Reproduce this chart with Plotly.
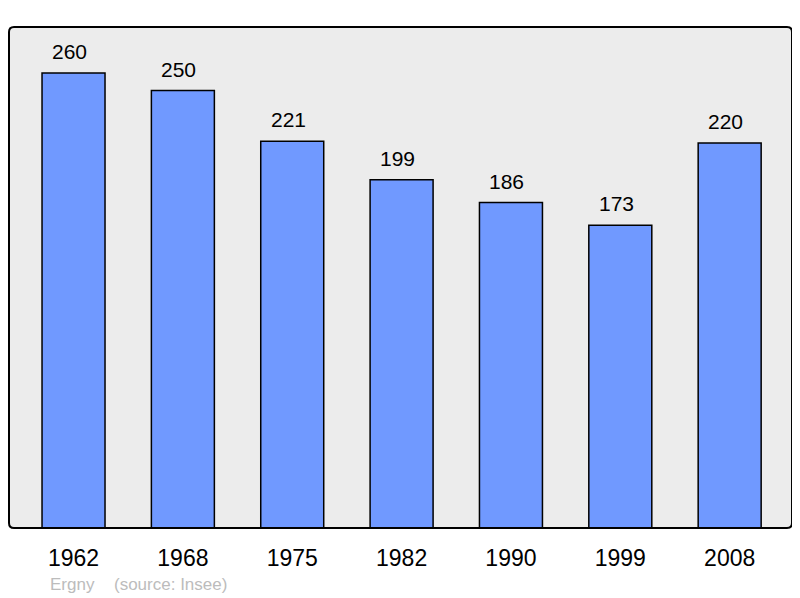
import plotly.graph_objects as go

years = ["1962", "1968", "1975", "1982", "1990", "1999", "2008"]
population = [260, 250, 221, 199, 186, 173, 220]
place = "Ergny"
source = "(source: Insee)"

# page body has an 8px margin, so the figure is drawn 8px right/down
OFF = 8
W, H = 800 - OFF, 598 - OFF
ml, mr, mt, mb = 9 - OFF, 8, 27 - OFF, 70
pw, ph = W - ml - mr, H - mt - mb

FONT = "Liberation Sans, Arial, sans-serif"

fig = go.Figure()
fig.add_trace(go.Bar(
    x=years, y=population, width=0.576,
    marker=dict(color="#7099ff", line=dict(color="#000000", width=1.5)),
    hoverinfo="x+y",
))

for i, v in enumerate(population):
    fig.add_annotation(x=i, y=v, text=str(v), showarrow=False,
                       yanchor="bottom", yshift=8, xshift=-4,
                       font=dict(family=FONT, size=21, color="#000000"))

ysrc = -(584 - 528) / ph
fig.add_annotation(xref="paper", yref="paper", x=(48 - 9) / pw, y=ysrc,
                   text=place, showarrow=False, xanchor="left", yanchor="middle",
                   font=dict(family=FONT, size=17, color="#bcbcbc"))
fig.add_annotation(xref="paper", yref="paper", x=(112 - 9) / pw, y=ysrc,
                   text=source, showarrow=False, xanchor="left", yanchor="middle",
                   font=dict(family=FONT, size=17, color="#bcbcbc"))

# rounded border of the plot area
rx, ry = 5 / pw, 5 / ph
path = (f"M {rx},0 L {1-rx},0 Q 1,0 1,{ry} L 1,{1-ry} Q 1,1 {1-rx},1 "
        f"L {rx},1 Q 0,1 0,{1-ry} L 0,{ry} Q 0,0 {rx},0 Z")
fig.add_shape(type="path", xref="paper", yref="paper", path=path,
              line=dict(color="#000000", width=2), layer="above")

fig.update_layout(
    width=W, height=H,
    margin=dict(l=ml, r=mr, t=mt, b=mb, autoexpand=False),
    paper_bgcolor="#ffffff", plot_bgcolor="#ececec",
    showlegend=False,
    xaxis=dict(type="category", range=[-0.59, 6.57], showgrid=False, zeroline=False,
               showline=False, ticks="outside", ticklen=9, tickcolor="rgba(0,0,0,0)",
               tickfont=dict(family=FONT, size=23, color="#000000")),
    yaxis=dict(range=[0, 286.3], showgrid=False, zeroline=False, showline=False,
               showticklabels=False, ticks=""),
)

fig.write_html("out.html")
